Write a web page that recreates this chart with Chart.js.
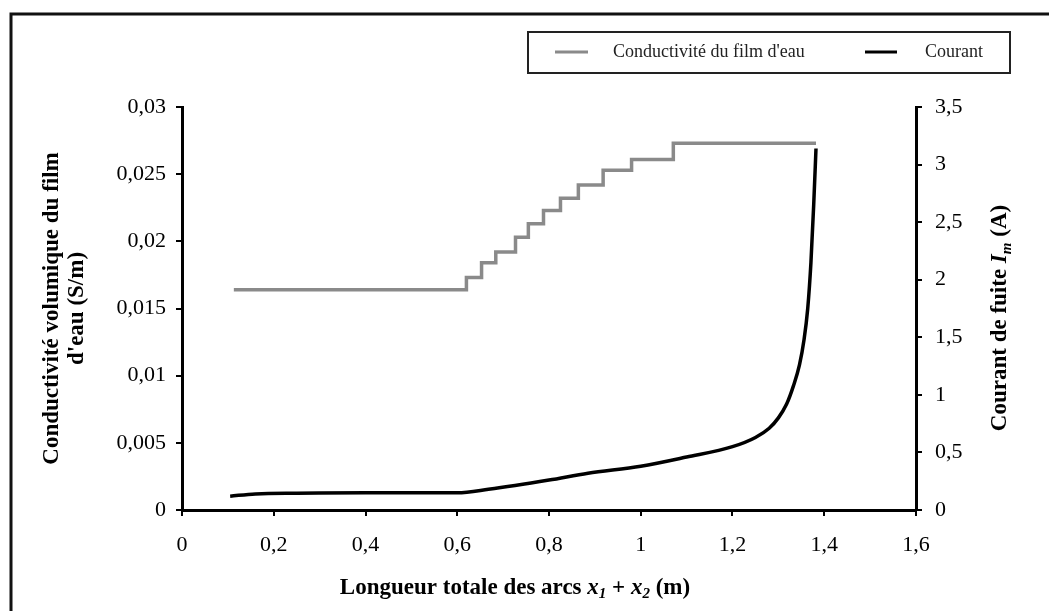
<!DOCTYPE html>
<html><head><meta charset="utf-8">
<script src="https://cdn.jsdelivr.net/npm/chart.js@4/dist/chart.umd.min.js"></script>
<style>html,body{margin:0;padding:0;background:#fff}</style>
</head><body>
<canvas id="c" width="1049" height="611"></canvas>
<script>
// ---- data ----
const seriesNames = ["Conductivité du film d'eau", "Courant"];
// Conductivité volumique du film d'eau (S/m), stepwise
const condX = [0.113, 0.620, 0.653, 0.684, 0.727, 0.755, 0.788, 0.825, 0.864, 0.918, 0.980, 1.071, 1.382];
const condY = [0.0164, 0.0173, 0.0184, 0.0192, 0.0203, 0.0213, 0.0223, 0.0232, 0.0242, 0.0253, 0.0261, 0.0273, 0.0273];
// Courant de fuite (A)
const curX = [0.105, 0.16, 0.25, 0.40, 0.52, 0.60, 0.668, 0.80, 0.885, 1.00, 1.10, 1.20, 1.25, 1.28, 1.30, 1.318, 1.333, 1.346, 1.356, 1.364, 1.371, 1.377, 1.382];
const curY = [0.12, 0.14, 0.145, 0.15, 0.15, 0.15, 0.18, 0.26, 0.32, 0.38, 0.46, 0.55, 0.63, 0.71, 0.80, 0.92, 1.08, 1.26, 1.48, 1.75, 2.15, 2.65, 3.14];
// tick labels
const xTicks = [0, 0.2, 0.4, 0.6, 0.8, 1, 1.2, 1.4, 1.6];
const yLeftTicks = [0, 0.005, 0.01, 0.015, 0.02, 0.025, 0.03];
const yRightTicks = [0, 0.5, 1, 1.5, 2, 2.5, 3, 3.5];

const SERIF = "'Liberation Serif', 'DejaVu Serif', serif";
const fmt = v => String(+v.toFixed(4)).replace('.', ',');

function drawSegs(ctx, segs, x, y, align) {
  let total = 0;
  segs.forEach(s => { ctx.font = s[1]; total += ctx.measureText(s[0]).width; });
  let cx = align === 'center' ? x - total / 2 : x;
  ctx.textAlign = 'left';
  ctx.textBaseline = 'middle';
  segs.forEach(s => { ctx.font = s[1]; ctx.fillText(s[0], cx, y + (s[2] || 0)); cx += ctx.measureText(s[0]).width; });
}

const decor = {
  id: 'decor',
  afterDraw(chart) {
    const ctx = chart.ctx, a = chart.chartArea;
    ctx.save();
    ctx.fillStyle = '#000';
    // outer frame (top & left visible)
    ctx.strokeStyle = '#111'; ctx.lineWidth = 3;
    ctx.beginPath(); ctx.moveTo(11, 611); ctx.lineTo(11, 14); ctx.lineTo(1049, 14); ctx.stroke();

    const B = "bold 23px " + SERIF, BI = "italic bold 23px " + SERIF, SUB = "italic bold 15px " + SERIF;
    // x title
    drawSegs(ctx, [["Longueur totale des arcs ", B], ["x", BI], ["1", SUB, 6], [" + ", B], ["x", BI], ["2", SUB, 6], [" (m)", B]], 515, 588, 'center');
    // left title (two lines)
    const cy = (a.top + a.bottom) / 2;
    ctx.save(); ctx.translate(52, cy); ctx.rotate(-Math.PI / 2);
    drawSegs(ctx, [["Conductivité volumique du film", B]], 0, 0, 'center');
    ctx.restore();
    ctx.save(); ctx.translate(77, cy); ctx.rotate(-Math.PI / 2);
    drawSegs(ctx, [["d'eau (S/m)", B]], 0, 0, 'center');
    ctx.restore();
    // right title
    ctx.save(); ctx.translate(1000, 318); ctx.rotate(-Math.PI / 2);
    drawSegs(ctx, [["Courant de fuite ", B], ["I", BI], ["m", SUB, 7], [" (A)", B]], 0, 0, 'center');
    ctx.restore();

    // legend box
    ctx.strokeStyle = '#222'; ctx.lineWidth = 2;
    ctx.strokeRect(528, 32, 482, 41);
    const ds = chart.data.datasets;
    const items = [[555, 588, 613], [865, 897, 925]];
    items.forEach((it, i) => {
      ctx.strokeStyle = ds[i].borderColor; ctx.lineWidth = 3;
      ctx.beginPath(); ctx.moveTo(it[0], 52); ctx.lineTo(it[1], 52); ctx.stroke();
      ctx.fillStyle = '#222';
      drawSegs(ctx, [[ds[i].label, "18px " + SERIF]], it[2], 52, 'left');
    });
    ctx.restore();
  }
};

const axisCommon = {
  grid: { display: true, drawOnChartArea: false, drawTicks: true, tickLength: 6, color: '#000', lineWidth: 2 },
  border: { display: true, color: '#000', width: 3 },
};

new Chart(document.getElementById('c'), {
  type: 'line',
  data: {
    datasets: [
      { label: seriesNames[0], data: condX.map((x, i) => ({ x, y: condY[i] })), yAxisID: 'y',
        borderColor: '#8a8a8a', borderWidth: 3.5, stepped: 'before', pointRadius: 0, fill: false },
      { label: seriesNames[1], data: curX.map((x, i) => ({ x, y: curY[i] })), yAxisID: 'y1',
        borderColor: '#000', borderWidth: 3.5, cubicInterpolationMode: 'monotone', pointRadius: 0, fill: false }
    ]
  },
  options: {
    responsive: false, animation: false, devicePixelRatio: 1,
    layout: { padding: { top: 107, left: 0, right: 0, bottom: 0 } },
    plugins: { legend: { display: false }, tooltip: { enabled: false } },
    scales: {
      x: { type: 'linear', min: 0, max: 1.6, ...axisCommon,
        afterBuildTicks: s => { s.ticks = xTicks.map(v => ({ value: v })); },
        afterFit: s => { s.height = 101; },
        ticks: { color: '#000', font: { family: SERIF, size: 22 }, padding: 16, maxRotation: 0, callback: v => fmt(v) } },
      y: { type: 'linear', position: 'left', min: 0, max: 0.03, ...axisCommon,
        afterBuildTicks: s => { s.ticks = yLeftTicks.map(v => ({ value: v })); },
        afterFit: s => { s.width = 182; },
        ticks: { color: '#000', font: { family: SERIF, size: 22 }, padding: 10, callback: v => fmt(v) } },
      y1: { type: 'linear', position: 'right', min: 0, max: 3.5, ...axisCommon,
        afterBuildTicks: s => { s.ticks = yRightTicks.map(v => ({ value: v })); },
        afterFit: s => { s.width = 133; },
        ticks: { color: '#000', font: { family: SERIF, size: 22 }, padding: 13, callback: v => fmt(v) } }
    }
  },
  plugins: [decor]
});
</script>
</body></html>
